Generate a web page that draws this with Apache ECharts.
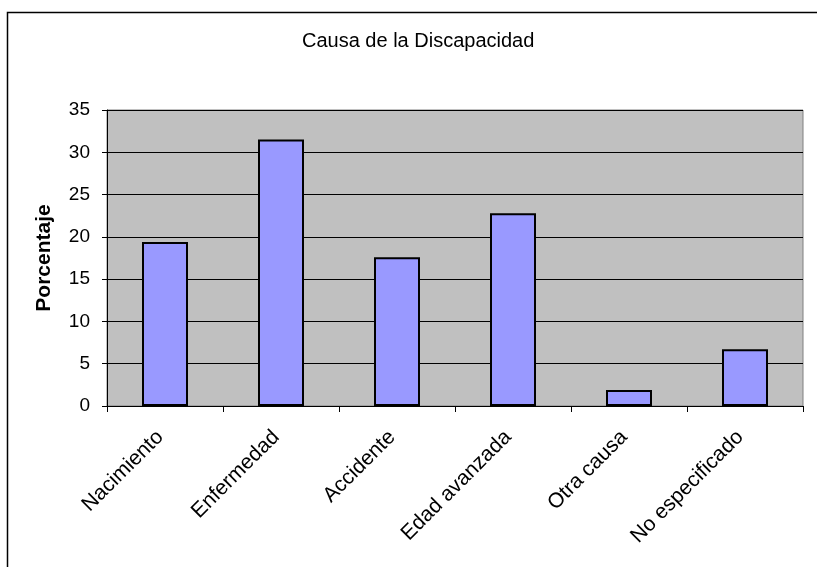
<!DOCTYPE html>
<html>
<head>
<meta charset="utf-8">
<script src="https://cdn.jsdelivr.net/npm/echarts@6/dist/echarts.min.js"></script>
<style>
  html, body { margin: 0; padding: 0; background: #ffffff; }
  #chart { width: 817px; height: 567px; }
</style>
</head>
<body>
<div id="chart"></div>
<script>
// Causes of disability, percentage per category
const categories = ['Nacimiento', 'Enfermedad', 'Accidente', 'Edad avanzada', 'Otra causa', 'No especificado'];
const porcentajes = [19.4, 31.5, 17.6, 22.8, 1.9, 6.7];
const yTicks = [0, 5, 10, 15, 20, 25, 30, 35];

const FONT = '"Liberation Sans", Arial, sans-serif';

const chart = echarts.init(document.getElementById('chart'), null, { renderer: 'canvas' });

chart.setOption({
  backgroundColor: '#ffffff',
  animation: false,
  title: {
    text: 'Causa de la Discapacidad',
    left: 297,
    top: 26,
    textStyle: { fontFamily: FONT, fontSize: 20, fontWeight: 'normal', color: '#000000' }
  },
  graphic: [
    {
      type: 'rect',
      shape: { x: 7.5, y: 12.5, width: 840, height: 600 },
      style: { fill: null, stroke: '#000000', lineWidth: 1.5 },
      silent: true
    }
  ],
  grid: {
    left: 107,
    right: 14,
    top: 110,
    bottom: 161,
    show: true,
    backgroundColor: '#c0c0c0',
    borderColor: '#808080',
    borderWidth: 1
  },
  xAxis: {
    type: 'category',
    data: categories,
    boundaryGap: true,
    axisLine: { show: true, lineStyle: { color: '#000000', width: 1 } },
    axisTick: { show: true, alignWithLabel: false, length: 6, lineStyle: { color: '#000000' } },
    axisLabel: {
      rotate: 45,
      margin: 23,
      padding: [0, 7, 0, 0],
      interval: 0,
      fontFamily: FONT,
      fontSize: 21,
      color: '#000000'
    },
    splitLine: { show: false }
  },
  yAxis: {
    type: 'value',
    min: yTicks[0],
    max: yTicks[yTicks.length - 1],
    interval: 5,
    name: 'Porcentaje',
    nameLocation: 'middle',
    nameGap: 52,
    nameTextStyle: { fontFamily: FONT, fontSize: 21, fontWeight: 'bold', color: '#000000' },
    axisLine: { show: true, lineStyle: { color: '#000000', width: 1 } },
    axisTick: { show: true, length: 5, lineStyle: { color: '#000000' } },
    axisLabel: {
      margin: 17,
      fontFamily: FONT,
      fontSize: 19,
      color: '#000000'
    },
    splitLine: { show: true, lineStyle: { color: '#000000', width: 1 } }
  },
  series: [
    {
      type: 'bar',
      data: porcentajes,
      barWidth: 46,
      itemStyle: { color: '#9999ff', borderColor: '#000000', borderWidth: 2 }
    }
  ]
});
</script>
</body>
</html>
